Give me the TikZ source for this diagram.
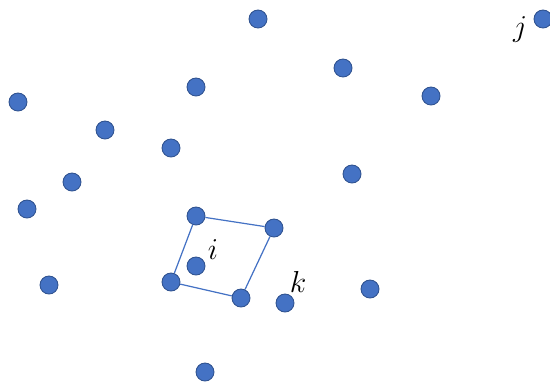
\documentclass[tikz,border=0pt]{standalone}
\usepackage{amsmath}
\usepackage{amssymb}
\usepackage{tikz}
\usetikzlibrary{shapes}

\definecolor{dotblue}{HTML}{4472C4}
\definecolor{dotedge}{HTML}{2F528F}
\tikzset{
  pt/.style={circle, fill=dotblue, draw=dotedge, line width=0.5pt, minimum size=0.36cm, inner sep=0pt},
  lbl/.style={font=\LARGE, inner sep=0pt}
}

\begin{document}
\begin{tikzpicture}[x=0.02cm, y=-0.02cm]
\useasboundingbox (0,0) rectangle (550,383);

\node[pt] (p1) at (258, 19) {};
\node[pt] (j) at (543, 19) {};
\node[pt] (p2) at (343, 68) {};
\node[pt] (p3) at (196, 87) {};
\node[pt] (p4) at (431, 96) {};
\node[pt] (p5) at (18, 102) {};
\node[pt] (p6) at (105, 130) {};
\node[pt] (p7) at (171, 148) {};
\node[pt] (p8) at (352, 174) {};
\node[pt] (p9) at (72, 182) {};
\node[pt] (p10) at (27, 209) {};
\node[pt] (p11) at (49, 285) {};
\node[pt] (p12) at (370, 289) {};
\node[pt] (p13) at (205, 372) {};
\node[pt] (k) at (285, 303) {};
\node[pt] (i) at (196, 266) {};

% neighbours of i
\node[pt] (q1) at (196, 216) {};
\node[pt] (q2) at (274, 228) {};
\node[pt] (q3) at (241, 298) {};
\node[pt] (q4) at (171, 282) {};
\draw[dotblue, line width=0.7pt] (q1) -- (q2) -- (q3) -- (q4) -- (q1);

\node[lbl] (il) at (213, 250) {$i$};
\node[lbl] (jl) at (520, 29) {$j$};
\node[lbl] (kl) at (298, 282) {$k$};
\end{tikzpicture}
\end{document}
